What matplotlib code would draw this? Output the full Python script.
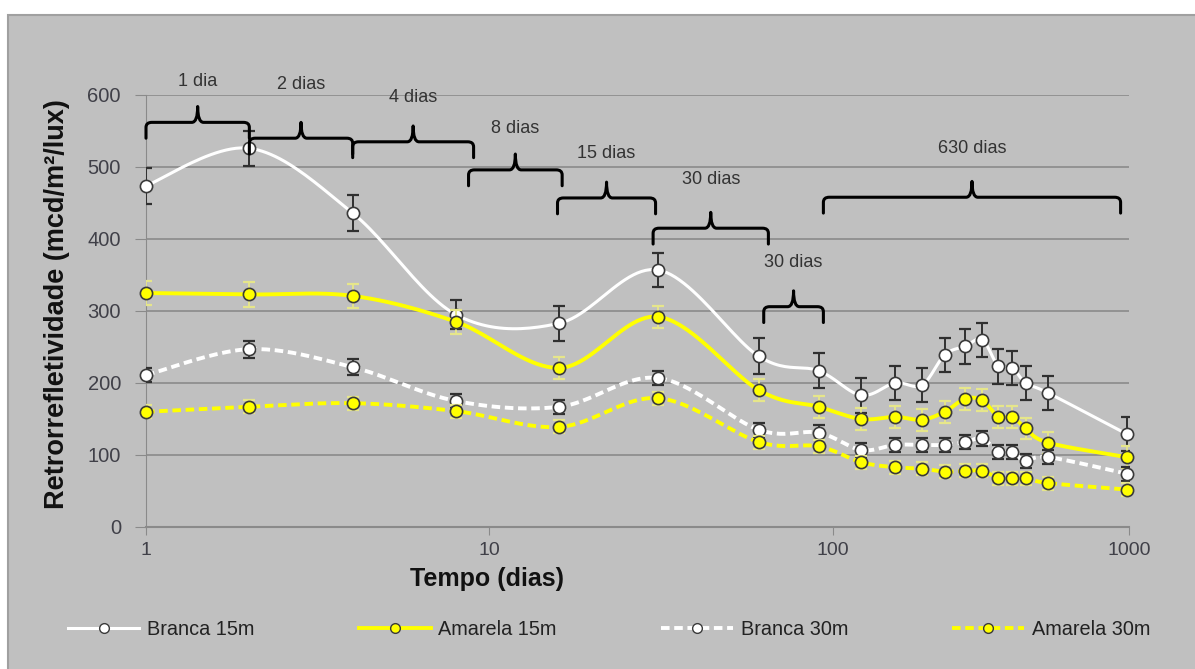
import numpy as np
import matplotlib
matplotlib.use("Agg")
import matplotlib.pyplot as plt
from matplotlib.path import Path
from matplotlib.patches import PathPatch, Rectangle
from matplotlib.lines import Line2D
from matplotlib.ticker import NullLocator

plt.rcParams['font.family'] = ['Liberation Sans', 'DejaVu Sans']

# --- data: retroreflectivity readings over time (days) ---
days = [1, 2, 4, 8, 16, 31, 61, 91, 121, 152, 182, 212, 243, 273, 304, 334, 365, 425, 720]

branca_15 = [474, 526, 436, 295, 283, 357, 237, 217, 183, 200, 197, 239, 251, 260, 223, 221, 200, 186, 129]
branca_15_err = [25, 24, 25, 20, 24, 24, 25, 24, 24, 24, 24, 24, 24, 24, 24, 24, 24, 24, 24]

amarela_15 = [325, 323, 321, 285, 221, 292, 190, 167, 150, 153, 149, 160, 178, 176, 153, 153, 137, 117, 97]
amarela_15_err = [17, 17, 17, 17, 15, 15, 15, 15, 15, 15, 15, 15, 15, 15, 15, 15, 15, 15, 15]

branca_30 = [211, 247, 222, 175, 167, 207, 135, 131, 107, 114, 114, 114, 118, 123, 104, 104, 92, 97, 74]
branca_30_err = [10, 12, 11, 10, 10, 10, 10, 10, 10, 10, 10, 10, 10, 10, 10, 10, 10, 10, 10]

amarela_30 = [160, 167, 172, 161, 139, 179, 118, 112, 90, 83, 81, 77, 78, 78, 68, 68, 68, 61, 52]
amarela_30_err = [9, 9, 9, 9, 9, 9, 9, 9, 9, 9, 9, 9, 9, 9, 9, 9, 9, 9, 9]

series_names = ['Branca 15m', 'Amarela 15m', 'Branca 30m', 'Amarela 30m']

# measurement intervals marked with braces
interval_start = [1, 2, 4, 8.7, 15.8, 30, 63, 94]
interval_end = [2, 4, 9, 16.3, 30.5, 65, 94, 690]
interval_level = [562, 540, 535, 496, 457, 415, 306, 458]
interval_text_level = [619, 614, 597, 554, 519, 483, 367, 526]
interval_labels = ['1 dia', '2 dias', '4 dias', '8 dias', '15 dias', '30 dias', '30 dias', '630 dias']

BG = '#c0c0c0'
GRID = '#8a8a8a'
TXT = '#404048'


def smooth(ax, x, y, n=24):
    # Bezier smoothing in display space (Excel-style smoothed line)
    pts = ax.transData.transform(np.column_stack([x, y]))
    p = np.vstack([pts[0], pts, pts[-1]])
    t = np.linspace(0, 1, n, endpoint=False)[:, None]
    out = []
    for i in range(1, len(p) - 2):
        p0, p1, p2, p3 = p[i - 1], p[i], p[i + 1], p[i + 2]
        c1 = p1 + (p2 - p0) / 6
        c2 = p2 - (p3 - p1) / 6
        out.append((1 - t) ** 3 * p1 + 3 * (1 - t) ** 2 * t * c1
                   + 3 * (1 - t) * t ** 2 * c2 + t ** 3 * p2)
    out.append(p[-2][None, :])
    curve = ax.transData.inverted().transform(np.vstack(out))
    return curve[:, 0], curve[:, 1]


def brace(ax, x0, x1, yb, drop=22, rise=22, c=7, k=1.04):
    xm = np.sqrt(x0 * x1)
    verts = [(x0, yb - drop), (x0, yb - c), (x0, yb), (x0 * k, yb), (xm / k, yb),
             (xm, yb), (xm, yb + rise), (xm, yb), (xm * k, yb), (x1 / k, yb),
             (x1, yb), (x1, yb - c), (x1, yb - drop)]
    codes = [Path.MOVETO, Path.LINETO, Path.CURVE3, Path.CURVE3, Path.LINETO,
             Path.CURVE3, Path.CURVE3, Path.CURVE3, Path.CURVE3, Path.LINETO,
             Path.CURVE3, Path.CURVE3, Path.LINETO]
    patch = PathPatch(Path(verts, codes), fill=False, edgecolor='black', lw=2.2,
                      capstyle='round', joinstyle='round', clip_on=False, zorder=6)
    ax.add_patch(patch)
    return xm


fig = plt.figure(figsize=(11.95, 6.69), dpi=100)
fig.patch.set_facecolor('white')
fig.add_artist(Rectangle((8 / 1195, -0.01), 1.05, (669 - 15) / 669 + 0.01,
                         transform=fig.transFigure, facecolor=BG,
                         edgecolor='#a0a0a0', lw=1.5, zorder=-10))

ax = fig.add_axes([146 / 1195, 142 / 669, 983 / 1195, 432 / 669])
ax.set_facecolor(BG)
ax.set_xscale('log')
ax.set_xlim(1, 730)
ax.set_ylim(0, 600)
ax.set_xticks([1, 10, 100, 730])
ax.set_xticklabels(['1', '10', '100', '1000'])
ax.xaxis.set_minor_locator(NullLocator())
ax.set_yticks(range(0, 601, 100))
ax.yaxis.grid(True, color=GRID, lw=1.2)
ax.set_axisbelow(True)
for s in ['top', 'right']:
    ax.spines[s].set_visible(False)
ax.spines['left'].set_color(GRID)
ax.spines['bottom'].set_color(GRID)
ax.spines['bottom'].set_linewidth(1.5)
ax.tick_params(axis='x', direction='out', length=6, color=GRID, labelsize=14,
               labelcolor=TXT, pad=5)
ax.tick_params(axis='y', direction='out', length=8, color=GRID, labelsize=14.5,
               labelcolor=TXT, pad=10)

styles = [
    dict(color='white', ls='-', lw=2.2, mfc='white', ecolor='#303030'),
    dict(color='#ffff00', ls='-', lw=2.8, mfc='#ffff00', ecolor='#e6e68a'),
    dict(color='white', ls=(0, (2.2, 1.2)), lw=2.8, mfc='white', ecolor='#303030'),
    dict(color='#ffff00', ls=(0, (2.2, 1.2)), lw=2.8, mfc='#ffff00', ecolor='#e6e68a'),
]
values = [branca_15, amarela_15, branca_30, amarela_30]
errors = [branca_15_err, amarela_15_err, branca_30_err, amarela_30_err]

handles = []
for i, (vals, err, st, name) in enumerate(zip(values, errors, styles, series_names)):
    z = 3 + i
    ax.errorbar(days, vals, yerr=err, fmt='none', ecolor=st['ecolor'],
                elinewidth=1.4, capsize=4.5, capthick=1.6, zorder=z)
    xs, ys = smooth(ax, days, vals)
    ax.plot(xs, ys, color=st['color'], ls=st['ls'], lw=st['lw'], zorder=z)
    ax.plot(days, vals, 'o', ms=8.8, mfc=st['mfc'], mec='#3a3a3a', mew=1.2,
            clip_on=False, zorder=z + 0.5)
    handles.append(Line2D([0], [0], color=st['color'], ls=st['ls'], lw=st['lw'],
                          marker='o', ms=7, mfc=st['mfc'], mec='#3a3a3a',
                          mew=1.0, label=name))

for x0, x1, yb, yt, lab in zip(interval_start, interval_end, interval_level,
                               interval_text_level, interval_labels):
    xm = brace(ax, x0, x1, yb)
    ax.text(xm, yt, lab, ha='center', va='center', fontsize=13, color='#333333',
            clip_on=False)

ax.set_xlabel('Tempo (dias)', fontsize=18, fontweight='bold', color='#111111')
ax.xaxis.set_label_coords(0.347, -0.093)
ax.set_ylabel('Retrorrefletividade (mcd/m²/lux)', fontsize=19.5, fontweight='bold',
              color='#111111')
ax.yaxis.set_label_coords(-0.077, 0.515)

fig.legend(handles=handles, loc='center', bbox_to_anchor=(0.5096, 0.059), ncol=4,
           frameon=False, fontsize=14.3, handlelength=3.6, handletextpad=0.4,
           columnspacing=5.25, labelcolor='#222222')

fig.savefig('out.png', dpi=100, facecolor=fig.get_facecolor())
